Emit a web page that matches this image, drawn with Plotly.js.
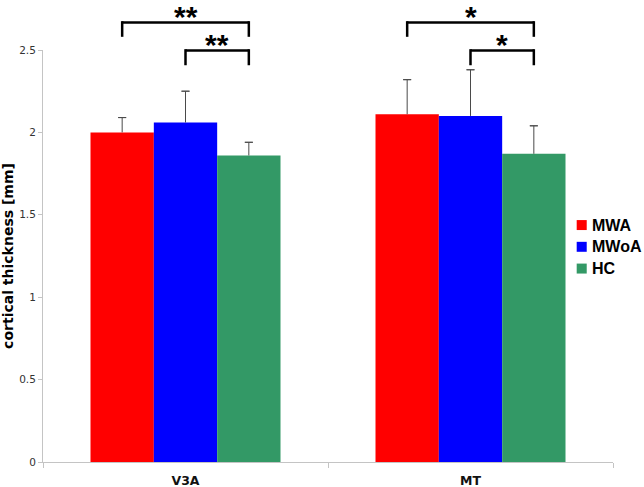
<!DOCTYPE html>
<html>
<head>
<meta charset="utf-8">
<script src="https://cdn.plot.ly/plotly-3.0.1.min.js"></script>
<style>html,body{margin:0;padding:0;background:#fff}#chart{width:644px;height:487px}</style>
</head>
<body>
<div id="chart"></div>
<script>
// ---- data ----
var regions = ["V3A", "MT"];
var groupNames = ["MWA", "MWoA", "HC"];
var groupColors = ["#ff0000", "#0000ff", "#339966"];
var mwaMean = [2.00, 2.11];
var mwoaMean = [2.06, 2.10];
var hcMean = [1.86, 1.87];
var mwaErr = [0.09, 0.21];
var mwoaErr = [0.19, 0.28];
var hcErr = [0.08, 0.17];
var yTicks = [0, 0.5, 1, 1.5, 2, 2.5];
// significance brackets: region index, from group, to group, label, level
var sigRegion = [0, 0, 1, 1];
var sigFrom = [0, 1, 0, 1];
var sigTo = [2, 2, 2, 2];
var sigLabel = ["**", "**", "*", "*"];
var sigLevel = [0, 1, 0, 1];

var means = [mwaMean, mwoaMean, hcMean];
var errs = [mwaErr, mwoaErr, hcErr];
var bargap = 1/3;
var barW = (1 - bargap) / groupNames.length;
function barCenter(r, g) { return r + (g - (groupNames.length - 1) / 2) * barW; }
var errColor = "#4a4a4a";

var traces = [];
groupNames.forEach(function (n, g) {
  // visible bar with the error stem (no caps)
  traces.push({
    type: "bar", name: n, x: regions, y: means[g], offsetgroup: "g" + g,
    marker: {color: groupColors[g], line: {width: 0}},
    error_y: {type: "data", symmetric: false, array: errs[g],
      arrayminus: errs[g].map(function () { return 0; }),
      color: errColor, thickness: 1, width: 0},
    showlegend: false, hoverinfo: "none"
  });
});
groupNames.forEach(function (n, g) {
  // invisible bar at mean + error, only used to draw the top cap
  traces.push({
    type: "bar", name: n + " cap", x: regions,
    y: means[g].map(function (m, i) { return m + errs[g][i]; }),
    offsetgroup: "g" + g, marker: {color: "rgba(0,0,0,0)", line: {width: 0}},
    error_y: {type: "data", symmetric: true, array: errs[g].map(function () { return 0; }),
      color: errColor, thickness: 1, width: 4},
    showlegend: false, hoverinfo: "none"
  });
});

// bracket geometry in paper units (above the plot)
var levelTop = [1.067, 0.999];
var levelBot = [1.032, 0.963];
var starY = [1.1214, 1.013];
var starAnchor = ["top", "middle"];
var shapes = [], annotations = [];
var lw = 2.5, ext = 0.003;
for (var k = 0; k < sigRegion.length; k++) {
  var x0 = barCenter(sigRegion[k], sigFrom[k]);
  var x1 = barCenter(sigRegion[k], sigTo[k]);
  var yt = levelTop[sigLevel[k]], yb = levelBot[sigLevel[k]];
  var ln = {color: "#000", width: lw};
  shapes.push({type: "line", xref: "x", yref: "paper", x0: x0, x1: x1, y0: yt, y1: yt, line: ln});
  shapes.push({type: "line", xref: "x", yref: "paper", x0: x0, x1: x0, y0: yt + ext, y1: yb, line: ln});
  shapes.push({type: "line", xref: "x", yref: "paper", x0: x1, x1: x1, y0: yt + ext, y1: yb, line: ln});
  annotations.push({xref: "x", yref: "paper", x: (x0 + x1) / 2, y: starY[sigLevel[k]],
    text: sigLabel[k], showarrow: false, xanchor: "center", yanchor: starAnchor[sigLevel[k]],
    borderpad: 0, borderwidth: 0,
    font: {family: "Liberation Sans", size: 30, weight: "bold", color: "#000"}});
}

// legend (right side)
var legX0 = 0.9363, legX1 = 0.9539, legTextX = 0.960;
var legY0 = 0.5751, legStep = 0.0528, legHalf = 0.0121;
groupNames.forEach(function (n, g) {
  var cy = legY0 - g * legStep;
  shapes.push({type: "rect", xref: "paper", yref: "paper", x0: legX0, x1: legX1,
    y0: cy - legHalf, y1: cy + legHalf, fillcolor: groupColors[g], line: {width: 0}});
  annotations.push({xref: "paper", yref: "paper", x: legTextX, y: cy, text: n,
    showarrow: false, xanchor: "left", yanchor: "middle",
    font: {family: "Liberation Sans", size: 16, weight: "bold", color: "#000"}});
});

var layout = {
  width: 644, height: 487,
  margin: {l: 43, r: 31, t: 50, b: 25},
  paper_bgcolor: "#fff", plot_bgcolor: "#fff",
  barmode: "group", bargap: bargap, bargroupgap: 0,
  showlegend: false,
  xaxis: {type: "category", showline: true, linecolor: "#c4c4c4", linewidth: 1,
    ticks: "outside", tickson: "boundaries", ticklen: 5, tickcolor: "#c4c4c4",
    showgrid: false, zeroline: false, fixedrange: true, ticklabelstandoff: 7,
    tickfont: {family: "DejaVu Sans", size: 12.5, weight: "bold", color: "#111"}},
  yaxis: {range: [0, 2.5], tickvals: yTicks, ticktext: yTicks.map(String),
    showline: true, linecolor: "#c4c4c4", linewidth: 1,
    ticks: "outside", ticklen: 4, tickcolor: "#c4c4c4",
    showgrid: false, zeroline: false, fixedrange: true,
    tickfont: {family: "DejaVu Sans", size: 10.5, color: "#333"},
    title: {text: "cortical thickness [mm]", standoff: 4,
      font: {family: "DejaVu Sans", size: 14, weight: "bold", color: "#000"}}},
  shapes: shapes, annotations: annotations
};

Plotly.newPlot("chart", traces, layout, {staticPlot: true, displayModeBar: false});
</script>
</body>
</html>
